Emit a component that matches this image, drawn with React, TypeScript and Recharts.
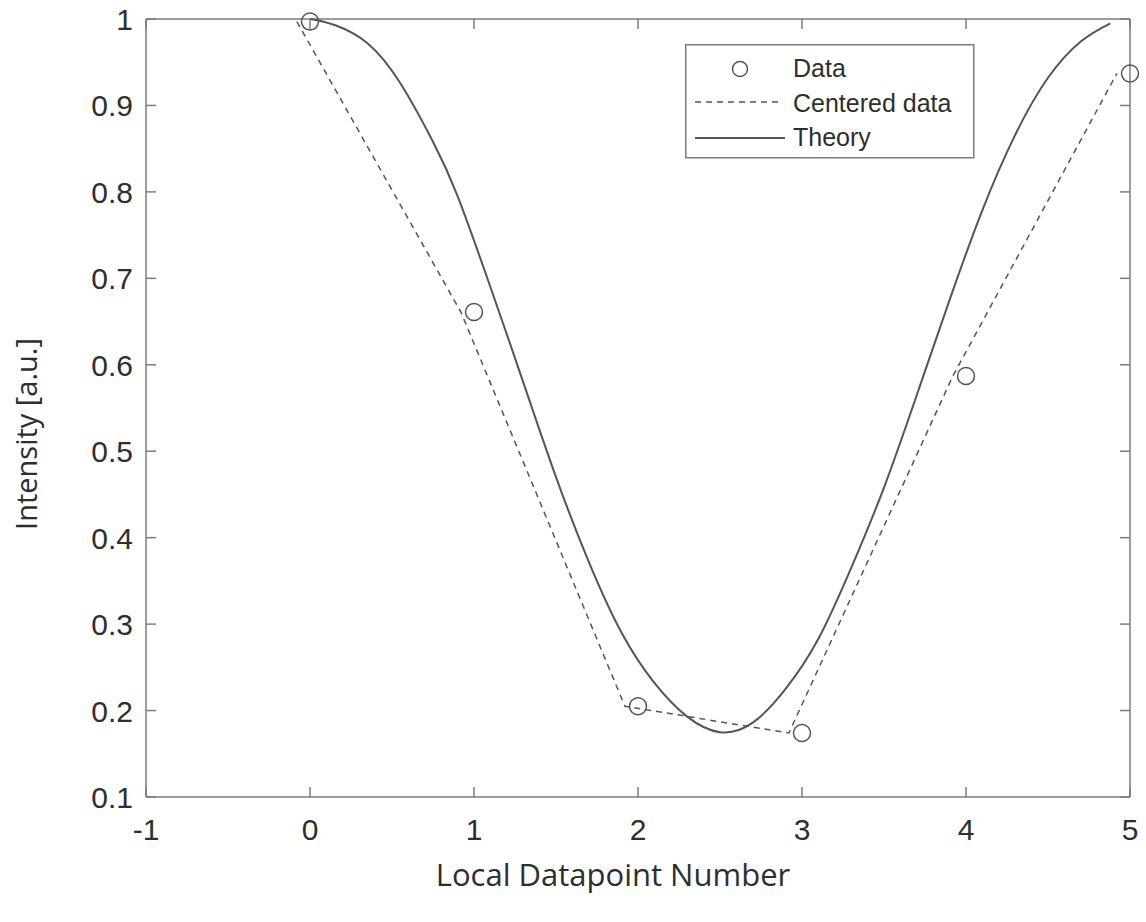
import { ComposedChart, Line, XAxis, YAxis, ReferenceLine, Legend } from "recharts";

// axis ticks
const xTicks = [-1, 0, 1, 2, 3, 4, 5];
const yTicks = [0.1, 0.2, 0.3, 0.4, 0.5, 0.6, 0.7, 0.8, 0.9, 1];

// measured points
const dataX = [0, 1, 2, 3, 4, 5];
const dataY = [0.997, 0.661, 0.205, 0.174, 0.587, 0.937];

// centered data (shifted left)
const centeredX = [-0.08, 0.92, 1.92, 2.92, 3.92, 4.92];
const centeredY = [0.997, 0.661, 0.205, 0.174, 0.587, 0.937];

// theory curve
const theoryX = [0, 0.15, 0.35, 0.55, 0.75, 0.9, 1.1, 1.3, 1.5, 1.7, 1.9, 2.1, 2.3, 2.5, 2.7, 2.9, 3.1, 3.3, 3.5, 3.7, 3.9, 4.1, 4.3, 4.5, 4.7, 4.88];
const theoryY = [1.0, 0.993, 0.972, 0.926, 0.858, 0.795, 0.69, 0.58, 0.47, 0.372, 0.29, 0.232, 0.193, 0.175, 0.186, 0.225, 0.283, 0.365, 0.458, 0.565, 0.675, 0.779, 0.866, 0.932, 0.974, 0.995];

const zip = (xs: number[], ys: number[]) => xs.map((x, i) => ({ x, y: ys[i] }));

const dataPts = zip(dataX, dataY);
const centeredPts = zip(centeredX, centeredY);
const theoryPts = zip(theoryX, theoryY);

const W = 1146;
const H = 922;
const PLOT_W = 984;
const PLOT_H = 778;
const AXIS = "#7d7d7d";
const INK = "#555555";
const TEXT = "#2e2e2e";
const TICK_FONT = "'Liberation Sans', Arial, sans-serif";
const LABEL_FONT = "'Open Sans', 'Noto Sans', sans-serif";

function XTick({ x, y, payload }: any) {
  return (
    <g>
      <line x1={x} y1={y} x2={x} y2={y - 10} stroke={AXIS} strokeWidth={1.5} />
      <line x1={x} y1={y - PLOT_H} x2={x} y2={y - PLOT_H + 10} stroke={AXIS} strokeWidth={1.5} />
      <text x={x} y={y + 43} textAnchor="middle" fill={TEXT} fontSize={30} fontFamily={TICK_FONT}>
        {String(payload.value)}
      </text>
    </g>
  );
}

function YTick({ x, y, payload }: any) {
  const v = Number(payload.value);
  return (
    <g>
      <line x1={x} y1={y} x2={x + 10} y2={y} stroke={AXIS} strokeWidth={1.5} />
      <line x1={x + PLOT_W} y1={y} x2={x + PLOT_W - 10} y2={y} stroke={AXIS} strokeWidth={1.5} />
      <text x={x - 13} y={y + 11} textAnchor="end" fill={TEXT} fontSize={30} fontFamily={TICK_FONT}>
        {v === 1 ? "1" : v.toFixed(1)}
      </text>
    </g>
  );
}

function LegendBox() {
  return (
    <svg width={290} height={115} style={{ display: "block" }}>
      <rect x={0.75} y={0.75} width={288} height={113} fill="#fff" stroke={AXIS} strokeWidth={1.5} />
      <circle cx={55} cy={25} r={7.5} fill="none" stroke={INK} strokeWidth={1.5} />
      <line x1={10} y1={58} x2={96} y2={58} stroke={INK} strokeWidth={1.5} strokeDasharray="6 5" />
      <line x1={10} y1={94} x2={100} y2={94} stroke={INK} strokeWidth={2} />
      <g fill={TEXT} fontSize={25} fontFamily={TICK_FONT}>
        <text x={108} y={33}>Data</text>
        <text x={108} y={68}>Centered data</text>
        <text x={108} y={102}>Theory</text>
      </g>
    </svg>
  );
}

export default function App() {
  return (
    <div style={{ position: "absolute", left: 0, top: 0, width: W, height: H, background: "#fff" }}>
      <ComposedChart width={W} height={H} margin={{ top: 19, right: 16, bottom: 0, left: 0 }}>
        <XAxis
          dataKey="x"
          type="number"
          domain={[-1, 5]}
          ticks={xTicks}
          interval={0}
          height={125}
          tickSize={0}
          tickMargin={0}
          tickLine={false}
          axisLine={{ stroke: AXIS, strokeWidth: 1.5 }}
          tick={<XTick />}
          label={{
            content: () => (
              <text x={613} y={886} textAnchor="middle" fill={TEXT} fontSize={31} fontFamily={LABEL_FONT}>
                Local Datapoint Number
              </text>
            ),
          }}
        />
        <YAxis
          dataKey="y"
          type="number"
          domain={[0.1, 1]}
          ticks={yTicks}
          interval={0}
          width={146}
          tickSize={0}
          tickMargin={0}
          tickLine={false}
          axisLine={{ stroke: AXIS, strokeWidth: 1.5 }}
          tick={<YTick />}
          label={{
            content: () => (
              <text
                x={37}
                y={434}
                transform="rotate(-90 37 434)"
                textAnchor="middle"
                fill={TEXT}
                fontSize={29}
                fontFamily={LABEL_FONT}
              >
                Intensity [a.u.]
              </text>
            ),
          }}
        />
        <ReferenceLine y={1} stroke={AXIS} strokeWidth={1.5} />
        <ReferenceLine x={5} stroke={AXIS} strokeWidth={1.5} />
        <Line
          data={theoryPts}
          dataKey="y"
          name="Theory"
          type="natural"
          stroke={INK}
          strokeWidth={2}
          dot={false}
          isAnimationActive={false}
        />
        <Line
          data={centeredPts}
          dataKey="y"
          name="Centered data"
          type="linear"
          stroke={INK}
          strokeWidth={1.5}
          strokeDasharray="6 5"
          dot={false}
          isAnimationActive={false}
        />
        <Line
          data={dataPts}
          dataKey="y"
          name="Data"
          stroke="none"
          dot={{ r: 8.5, fill: "none", stroke: INK, strokeWidth: 1.5 }}
          activeDot={false}
          isAnimationActive={false}
        />
        <Legend
          layout="vertical"
          align="center"
          verticalAlign="middle"
          wrapperStyle={{ left: 685, top: 44, width: 290, height: 115 }}
          content={() => <LegendBox />}
        />
      </ComposedChart>
    </div>
  );
}
